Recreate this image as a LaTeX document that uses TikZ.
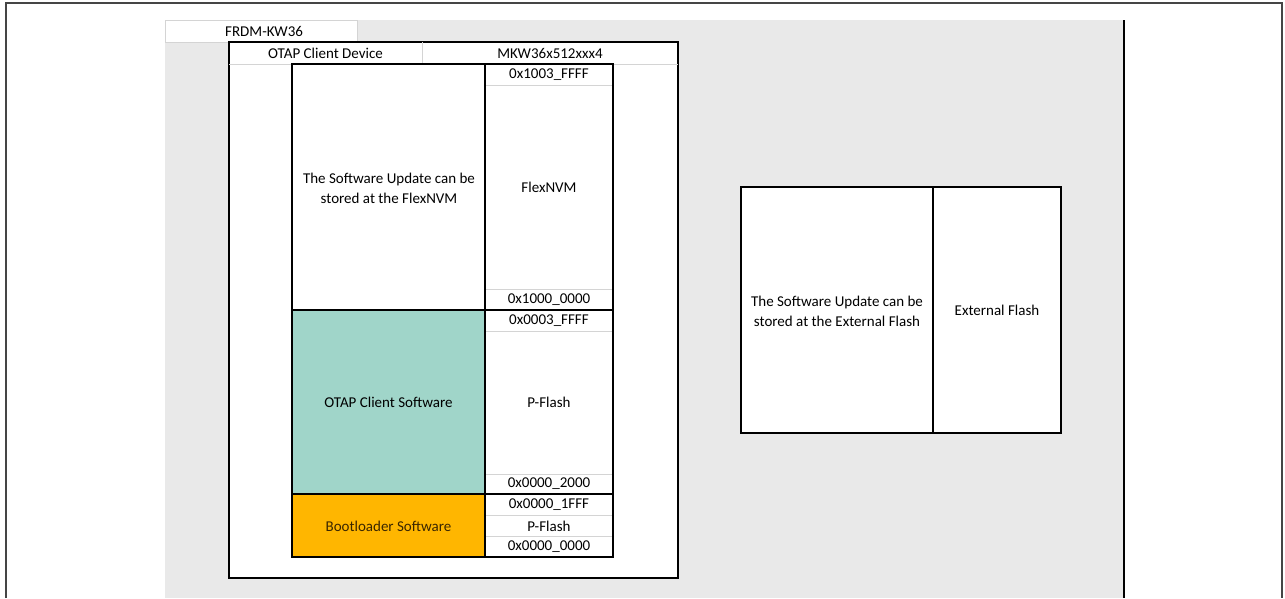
\documentclass[tikz,border=0pt]{standalone}
\usepackage{fontspec}
\setmainfont{Carlito}
\definecolor{panelgray}{HTML}{E9E9E9}
\definecolor{gridgray}{HTML}{D4D4D4}
\definecolor{otapteal}{HTML}{A0D5C9}
\definecolor{bootorange}{HTML}{FFB600}
\definecolor{bootbrown}{HTML}{3A2600}
\definecolor{framegray}{HTML}{454545}
\begin{document}
\begin{tikzpicture}[x=1pt,y=-1pt,
    lbl/.style={font=\fontsize{15}{20}\selectfont,align=center,inner sep=0pt},
    addr/.style={lbl},
    region/.style={draw=black,line width=2pt}]
   \useasboundingbox (0,0) rectangle (1285,598);
   % outer frame and sheet
   \draw[color=framegray,line width=2pt] (6,598) -- (6,3) -- (1282,3) -- (1282,598);
   \fill[color=panelgray] (165,20) rectangle (1124,598);
   \draw[color=gridgray,fill=white] (165,20) rectangle (357,42);
   \node[lbl,anchor=west] (board) at (225,31) {FRDM-KW36};
   \draw[line width=1.5pt] (1124,20) -- (1124,598);

   % device box
   \draw[region,fill=white] (229,42) rectangle (678,578);
   \draw[color=gridgray] (229,64) -- (678,64) (422,42) -- (422,64);
   \node[lbl] (device) at (325.5,53) {OTAP Client Device};
   \node[lbl] (mcu) at (550,53) {MKW36x512xxx4};

   \begin{scope}
      % memory map
      \fill[color=otapteal] (292,310) rectangle (485,494);
      \fill[color=bootorange] (292,494) rectangle (485,557);
      \draw[color=gridgray] (485,85) -- (613,85) (485,289) -- (613,289)
        (485,331) -- (613,331) (485,474) -- (613,474)
        (485,515) -- (613,515) (485,536) -- (613,536);
      \draw[region] (292,64) rectangle (613,557);
      \draw[region] (485,64) -- (485,557);
      \draw[region] (292,310) -- (613,310) (292,494) -- (613,494);

      \node[lbl] (flexnote) at (389,188) {The Software Update can be\\stored at the FlexNVM};
      \node[lbl] (otapsw) at (388.5,402) {OTAP Client Software};
      \node[lbl,text=bootbrown] (bootsw) at (388.5,526) {Bootloader Software};

      \node[addr] (a1) at (549,75) {0x1003\_FFFF};
      \node[lbl] (flexnvm) at (549,187) {FlexNVM};
      \node[addr] (a2) at (549,300) {0x1000\_0000};
      \node[addr] (a3) at (549,321) {0x0003\_FFFF};
      \node[lbl] (pflash) at (549,402) {P-Flash};
      \node[addr] (a4) at (549,484) {0x0000\_2000};
      \node[addr] (a5) at (549,505) {0x0000\_1FFF};
      \node[lbl] (pflashboot) at (549,526) {P-Flash};
      \node[addr] (a6) at (549,547) {0x0000\_0000};
   \end{scope}

   \begin{scope}
      % external flash
      \draw[region,fill=white] (741,187) rectangle (1061,433);
      \draw[region] (933,187) -- (933,433);
      \node[lbl] (extnote) at (837,311) {The Software Update can be\\stored at the External Flash};
      \node[lbl] (extflash) at (997,310) {External Flash};
   \end{scope}
\end{tikzpicture}
\end{document}
